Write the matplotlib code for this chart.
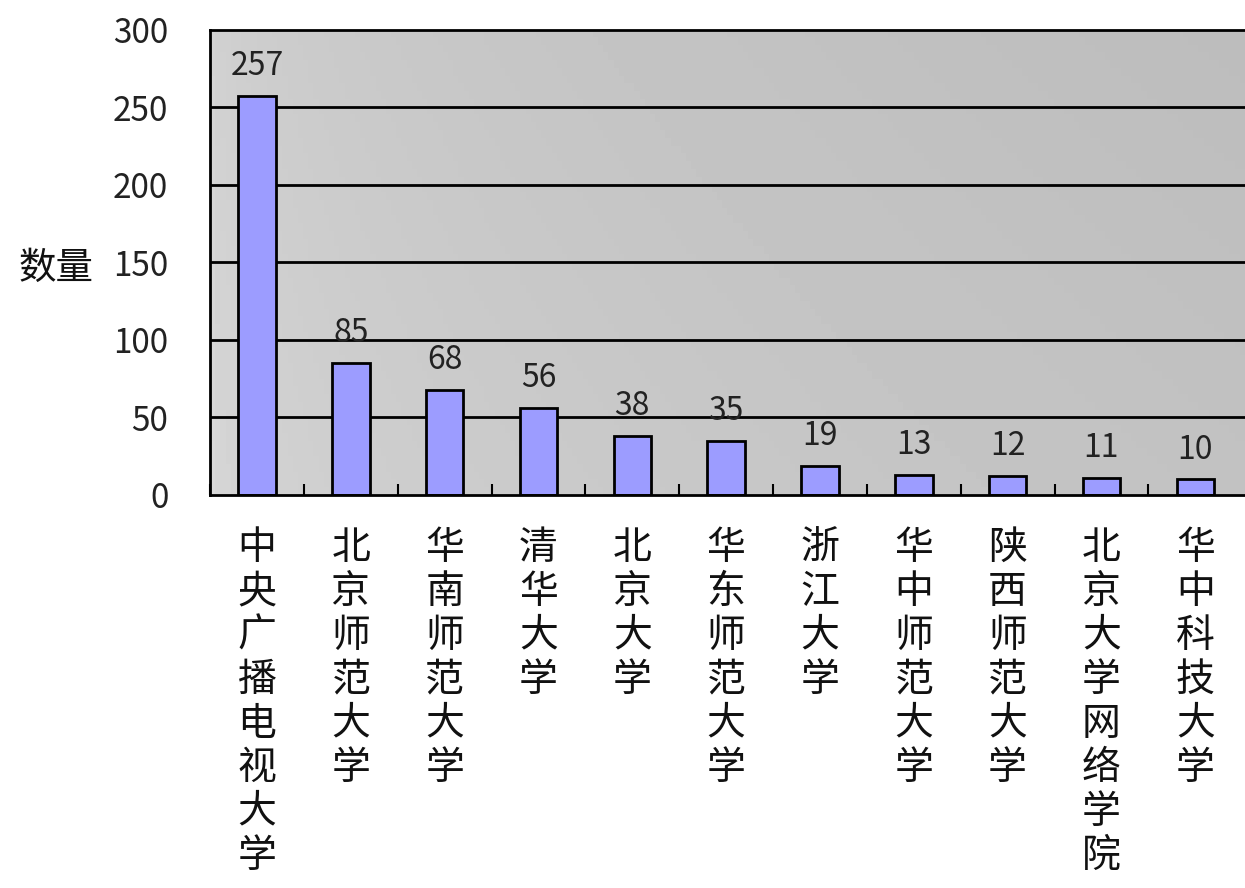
import numpy as np
import matplotlib
matplotlib.use("Agg")
import matplotlib.pyplot as plt

plt.rcParams["font.family"] = ["Noto Sans CJK SC", "DejaVu Sans"]

schools = ["中央广播电视大学", "北京师范大学", "华南师范大学", "清华大学", "北京大学",
           "华东师范大学", "浙江大学", "华中师范大学", "陕西师范大学", "北京大学网络学院",
           "华中科技大学"]
counts = [257, 85, 68, 56, 38, 35, 19, 13, 12, 11, 10]
yticks = [0, 50, 100, 150, 200, 250, 300]

fig = plt.figure(figsize=(12.45, 8.88), dpi=100)
ax = fig.add_axes([0.1687, 0.4426, 0.8313, 0.524])

x = np.arange(len(schools))
ax.set_xlim(-0.5, 10.53)
ax.set_ylim(0, 300)

# grey plot area, lighter on the left, a bit darker toward the top
gx = np.linspace(0, 1, 200)
gy = np.linspace(0, 1, 60)
G = 0.85 - 0.09 * gx[None, :] ** 0.4 - 0.02 * gy[:, None]
ax.imshow(G, extent=(-0.5, 10.53, 0, 300), origin="lower", aspect="auto",
          cmap="gray", vmin=0, vmax=1, zorder=0)

for v in yticks[1:-1]:
    ax.axhline(v, color="black", lw=2, zorder=1)

ax.bar(x, counts, width=0.4, color="#9c9cff", edgecolor="black", lw=2, zorder=2)
for xi, c in zip(x, counts):
    ax.text(xi, c + 9, str(c), ha="center", va="bottom", fontsize=23,
            color="#222222", zorder=3)

ax.set_yticks(yticks)
ax.set_yticklabels([str(v) for v in yticks], fontsize=24, color="#222222")
ax.tick_params(axis="y", length=0, pad=30)
ax.set_xticks(np.arange(-0.5, 10.5, 1.0))
ax.set_xticklabels([])
ax.tick_params(axis="x", direction="in", length=8, width=1.5)

for s in ["left", "bottom", "top"]:
    ax.spines[s].set_linewidth(2)
ax.spines["right"].set_visible(False)

# vertical category labels, one character per line
for xi, name in zip(x, schools):
    ax.text(xi, -21, "\n".join(name), ha="center", va="top", fontsize=28,
            linespacing=1.13, color="#111111", clip_on=False)

fig.text(0.045, 1 - 268 / 888, "数量", ha="center", va="center", fontsize=27,
         color="#111111")

fig.savefig("out.png", dpi=100)
